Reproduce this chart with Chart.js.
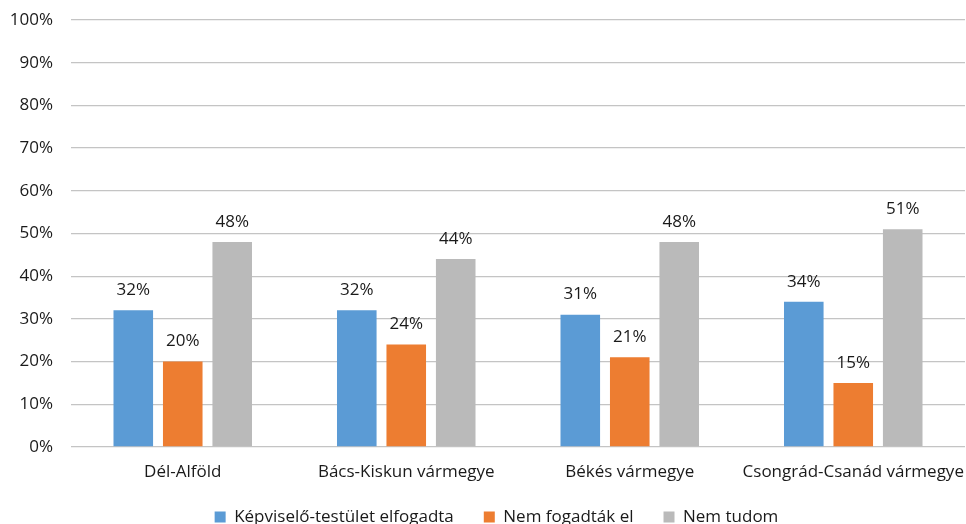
<!DOCTYPE html>
<html><head><meta charset="utf-8">
<script src="https://cdn.jsdelivr.net/npm/chart.js@4/dist/chart.umd.min.js"></script>
<style>html,body{margin:0;padding:0;background:#fff}#wrap{width:966px;height:524px}</style>
</head><body><div id="wrap"><canvas id="c" width="966" height="524"></canvas></div>
<script>
const categories = ["Dél-Alföld", "Bács-Kiskun vármegye", "Békés vármegye", "Csongrád-Csanád vármegye"];
const seriesNames = ["Képviselő-testület elfogadta", "Nem fogadták el", "Nem tudom"];
const accepted = [32, 32, 31, 34];
const rejected = [20, 24, 21, 15];
const dontKnow = [48, 44, 48, 51];
const colors = ["#5b9bd5", "#ed7d31", "#bababa"];
const FONT = "'Open Sans', 'Liberation Sans', sans-serif";

const labelPlugin = {
  id: 'valLabels',
  afterLayout(chart) {
    // nudge legend row to the right as in the reference
    if (chart.legend) { chart.legend.left += 14; chart.legend.right += 14; }
    // let the category labels extend below the (compact) x-scale box without clipping
    if (chart.scales.x) { chart.scales.x.bottom += 14; }
  },
  afterDatasetsDraw(chart) {
    const ctx = chart.ctx;
    ctx.save();
    ctx.font = "17px " + FONT;
    ctx.fillStyle = "#1a1a1a";
    ctx.textAlign = "center";
    ctx.textBaseline = "middle";
    chart.data.datasets.forEach((ds, i) => {
      chart.getDatasetMeta(i).data.forEach((bar, j) => {
        ctx.fillText(ds.data[j] + "%", bar.x, bar.y - 20);
      });
    });
    ctx.restore();
  }
};

new Chart(document.getElementById('c'), {
  type: 'bar',
  data: {
    labels: categories,
    datasets: [
      { label: seriesNames[0], data: accepted, backgroundColor: colors[0] },
      { label: seriesNames[1], data: rejected, backgroundColor: colors[1] },
      { label: seriesNames[2], data: dontKnow, backgroundColor: colors[2] }
    ]
  },
  options: {
    responsive: false,
    animation: false,
    devicePixelRatio: 1,
    layout: { padding: { top: 20, right: 1, left: 0, bottom: -6.5 } },
    datasets: { bar: { categoryPercentage: 0.664, barPercentage: 0.8 } },
    scales: {
      y: {
        min: 0, max: 100,
        afterFit(s) { s.width = 71; s.paddingTop = 0; },
        ticks: { stepSize: 10, callback: v => v + "%", color: "#1a1a1a", font: { family: FONT, size: 17 }, padding: 18 },
        grid: { color: "#c4c4c4", lineWidth: 1.3, drawTicks: false },
        border: { display: false }
      },
      x: {
        afterFit(s) { s.paddingLeft = 0; s.paddingRight = 0; s.height = 31.5; },
        ticks: { color: "#1a1a1a", font: { family: FONT, size: 17 }, padding: 15, maxRotation: 0, minRotation: 0, autoSkip: false },
        grid: { display: false, drawTicks: false },
        border: { display: false }
      }
    },
    plugins: {
      legend: {
        position: 'bottom',
        maxHeight: 52,
        labels: { color: "#1a1a1a", font: { family: FONT, size: 17 }, boxWidth: 11, boxHeight: 11, padding: 30 }
      },
      tooltip: { enabled: false }
    }
  },
  plugins: [labelPlugin]
});
</script></body></html>
